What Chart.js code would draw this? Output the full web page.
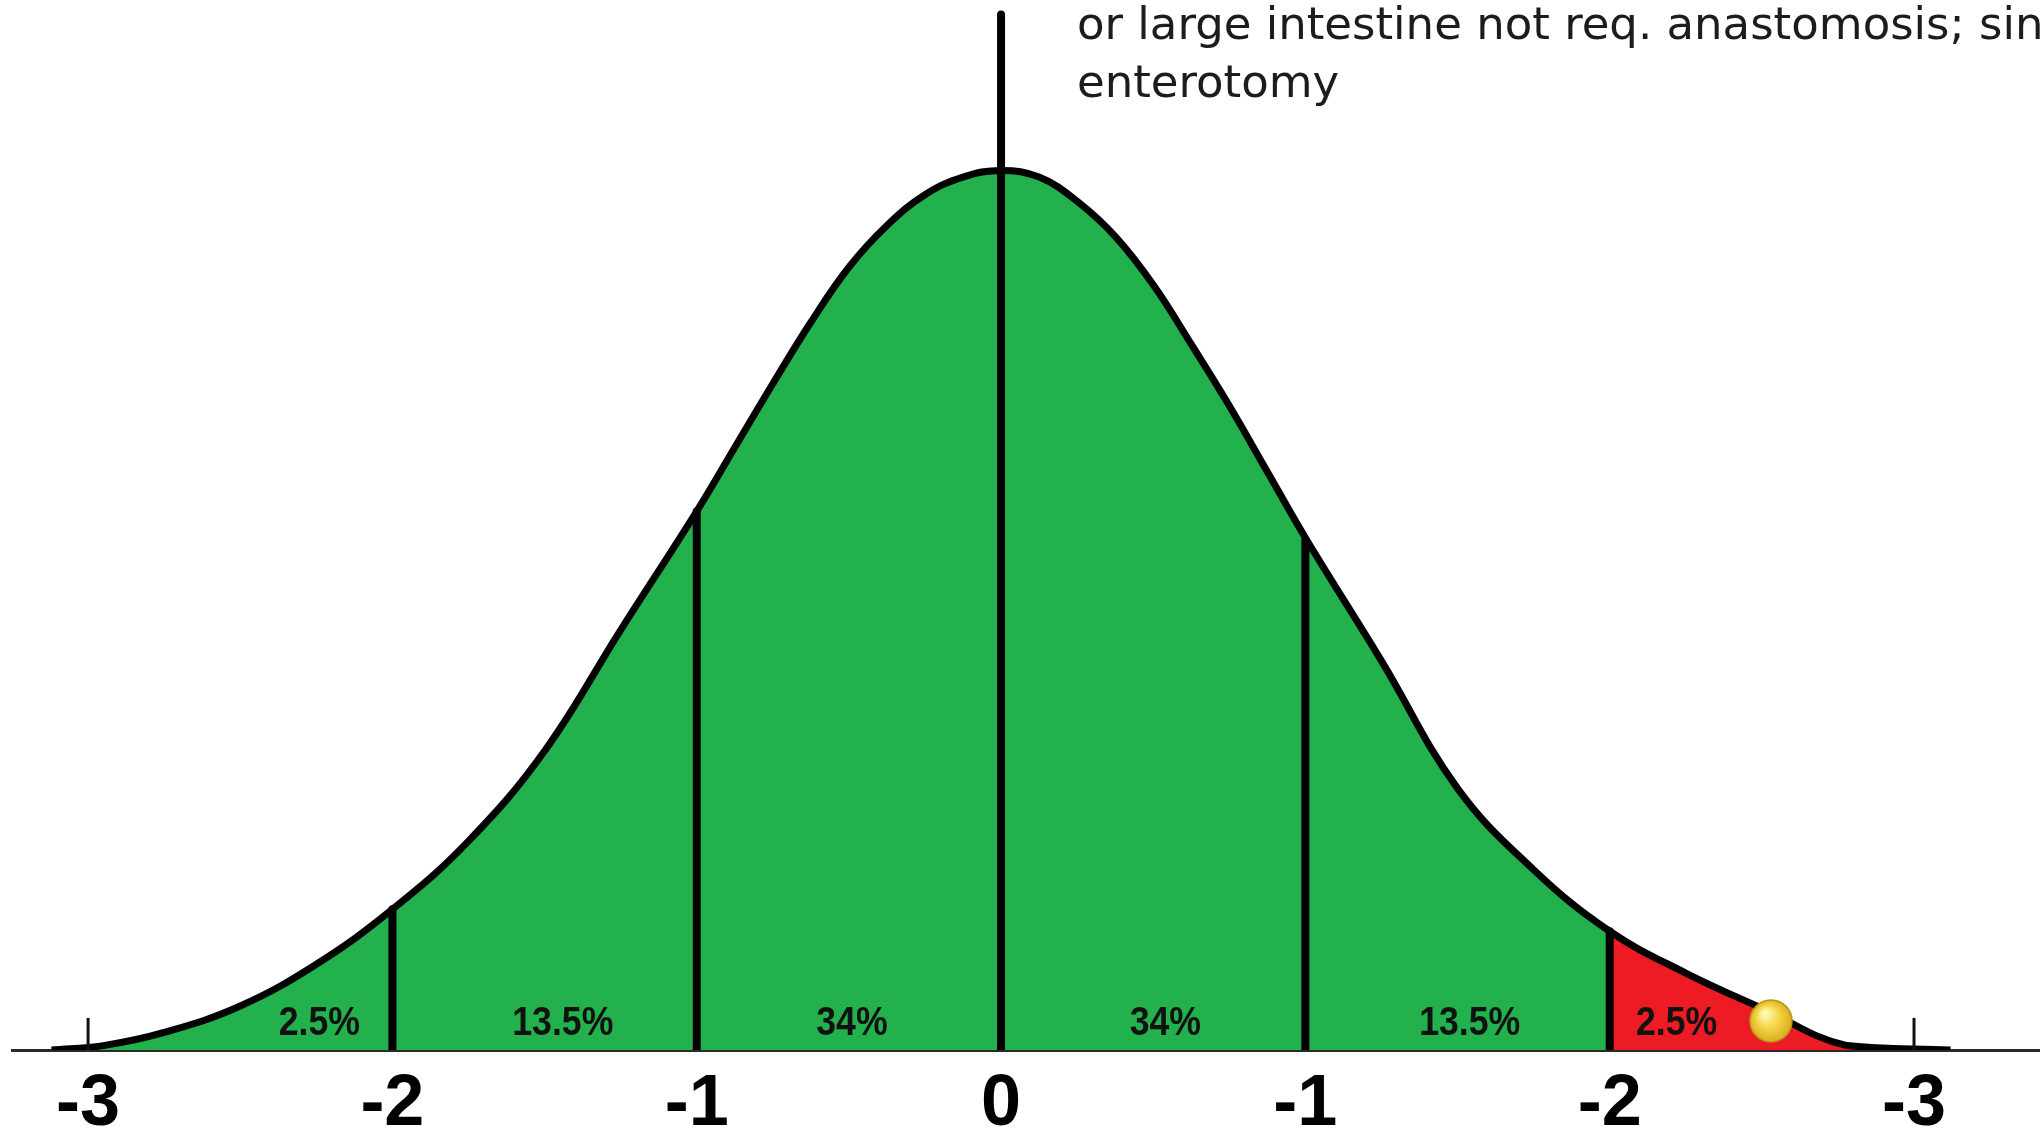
<!DOCTYPE html>
<html>
<head>
<meta charset="utf-8">
<title>Courbe normale</title>
<script src="https://cdn.jsdelivr.net/npm/chart.js@4.4.1/dist/chart.umd.min.js"></script>
<style>
  html, body { margin: 0; padding: 0; background: #fff; overflow: hidden; }
  canvas { display: block; }
</style>
</head>
<body>
<canvas id="monGraphique" width="2040" height="1133"></canvas>
<script>
// --- données ---
// positions en écarts-types et hauteur de la courbe (densité)
const zPoints = [-3.12, -2.95, -2.75, -2.5, -2.25, -2.0, -1.75, -1.5, -1.25, -1.0, -0.875, -0.75, -0.625,
                 -0.5, -0.375, -0.25, -0.125, 0, 0.125, 0.25, 0.375, 0.5, 0.625, 0.75, 0.875, 1.0,
                 1.25, 1.5, 1.75, 2.0, 2.25, 2.5, 2.78, 3.12];
const curveHeights = [0, 0.002, 0.008, 0.020, 0.039, 0.064, 0.095, 0.136, 0.191, 0.245, 0.274, 0.303, 0.331,
                      0.356, 0.375, 0.389, 0.397, 0.400, 0.397, 0.386, 0.370, 0.348, 0.321, 0.293, 0.263, 0.233,
                      0.177, 0.119, 0.082, 0.054, 0.035, 0.019, 0.002, 0];

// axe du bas
const tickValues = [-3, -2, -1, 0, 1, 2, 3];
const tickLabels = ['-3', '-2', '-1', '0', '-1', '-2', '-3'];

// traits verticaux (séparations)
const dividerZ = [-2, -1, 0, 1, 2];
const dividerTop = [0.064, 0.245, 0.471, 0.232, 0.054];

// petits repères à -3 / +3
const endTickZ = [-3, 3];
const endTickTop = 0.0146;

// pourcentages
const pctLabels = ['2.5%', '13.5%', '34%', '34%', '13.5%', '2.5%'];
const pctZ = [-2.24, -1.44, -0.49, 0.54, 1.54, 2.22];
const pctY = 0.0118;

// point jaune
const dotZ = 2.53;
const dotY = 0.0132;

// texte en haut (coupé à droite)
const noteLines = ['or large intestine not req. anastomosis; sin', 'enterotomy'];

// --- préparation des séries ---
const curve = zPoints.map((z, i) => ({ x: z, y: curveHeights[i] }));
const greenPart = curve.filter(p => p.x <= 2);
const redPart = curve.filter(p => p.x >= 2);

const datasets = [
    {
        data: greenPart, fill: 'origin', backgroundColor: '#22b14c',
        borderWidth: 0, pointRadius: 0, tension: 0.4, order: 10
    },
    {
        data: redPart, fill: 'origin', backgroundColor: '#ed1c24',
        borderWidth: 0, pointRadius: 0, tension: 0.4, order: 10
    },
    {
        data: curve, fill: false, borderColor: '#000', borderWidth: 7,
        pointRadius: 0, tension: 0.4, order: 6
    }
];

dividerZ.forEach((z, i) => {
    datasets.push({
        data: [{ x: z, y: 0 }, { x: z, y: dividerTop[i] }],
        borderColor: '#000', borderWidth: 8, borderCapStyle: 'round',
        pointRadius: 0, fill: false, order: 4
    });
});

endTickZ.forEach(z => {
    datasets.push({
        data: [{ x: z, y: 0 }, { x: z, y: endTickTop }],
        borderColor: '#111', borderWidth: 3, pointRadius: 0, fill: false, order: 4
    });
});

datasets.push({
    data: [{ x: dotZ, y: dotY }],
    showLine: false, pointRadius: 21, pointBorderWidth: 1.5,
    pointBorderColor: '#b8961c',
    pointBackgroundColor: ctx => {
        const chart = ctx.chart;
        if (!chart.chartArea) return '#f4cf3b';
        const px = chart.scales.x.getPixelForValue(dotZ);
        const py = chart.scales.y.getPixelForValue(dotY);
        const g = chart.ctx.createRadialGradient(px - 6, py - 8, 2, px, py, 22);
        g.addColorStop(0, '#fff7b0');
        g.addColorStop(0.45, '#f6d84a');
        g.addColorStop(1, '#d9a91c');
        return g;
    },
    order: 1
});

// textes : pourcentages + note du haut
const textesPlugin = {
    id: 'textes',
    afterDatasetsDraw(chart) {
        const { ctx, scales: { x, y } } = chart;
        ctx.save();
        ctx.fillStyle = '#111';
        ctx.textAlign = 'center';
        ctx.textBaseline = 'middle';
        ctx.font = 'bold 41px "Liberation Sans", Arial, sans-serif';
        pctLabels.forEach((t, i) => {
            const px = x.getPixelForValue(pctZ[i]);
            const py = y.getPixelForValue(pctY);
            ctx.save();
            ctx.translate(px, py);
            ctx.scale(0.87, 1); // police un peu étroite comme sur l'image
            ctx.fillText(t, 0, 0);
            ctx.restore();
        });

        // note : taille ajustée pour que la 1re ligne fasse ~960 px
        ctx.textAlign = 'left';
        ctx.textBaseline = 'alphabetic';
        ctx.fillStyle = '#1c1c1c';
        ctx.font = '100px "DejaVu Sans", sans-serif';
        const size = Math.round(100 * 960 / ctx.measureText(noteLines[0]).width);
        ctx.font = size + 'px "DejaVu Sans", sans-serif';
        ctx.fillText(noteLines[0], 1077, 39);
        ctx.fillText(noteLines[1], 1077, 97);
        ctx.restore();
    }
};

const ctx = document.getElementById('monGraphique').getContext('2d');

new Chart(ctx, {
    type: 'line',
    data: { datasets: datasets },
    options: {
        responsive: false,
        animation: false,
        events: [],
        devicePixelRatio: 1,
        layout: { autoPadding: false, padding: { top: 10, left: 12, right: 0, bottom: 0 } },
        plugins: { legend: { display: false }, tooltip: { enabled: false } },
        scales: {
            x: {
                type: 'linear',
                min: -3.25,
                max: 3.414,
                grid: { display: false, drawTicks: false },
                border: { display: true, color: '#2a2a2a', width: 3 },
                afterBuildTicks: scale => {
                    scale.ticks = tickValues.map(v => ({ value: v }));
                },
                afterFit: scale => {
                    scale.height = 83;
                    scale.paddingLeft = 0;
                    scale.paddingRight = 0;
                },
                ticks: {
                    padding: 19,
                    color: '#000',
                    font: { family: '"Liberation Sans", Arial, sans-serif', weight: 'bold', size: 72, lineHeight: 1 },
                    callback: value => {
                        const i = tickValues.indexOf(value);
                        return i >= 0 ? tickLabels[i] : '';
                    }
                }
            },
            y: {
                display: false,
                min: 0,
                max: 0.473
            }
        }
    },
    plugins: [textesPlugin]
});
</script>
</body>
</html>
